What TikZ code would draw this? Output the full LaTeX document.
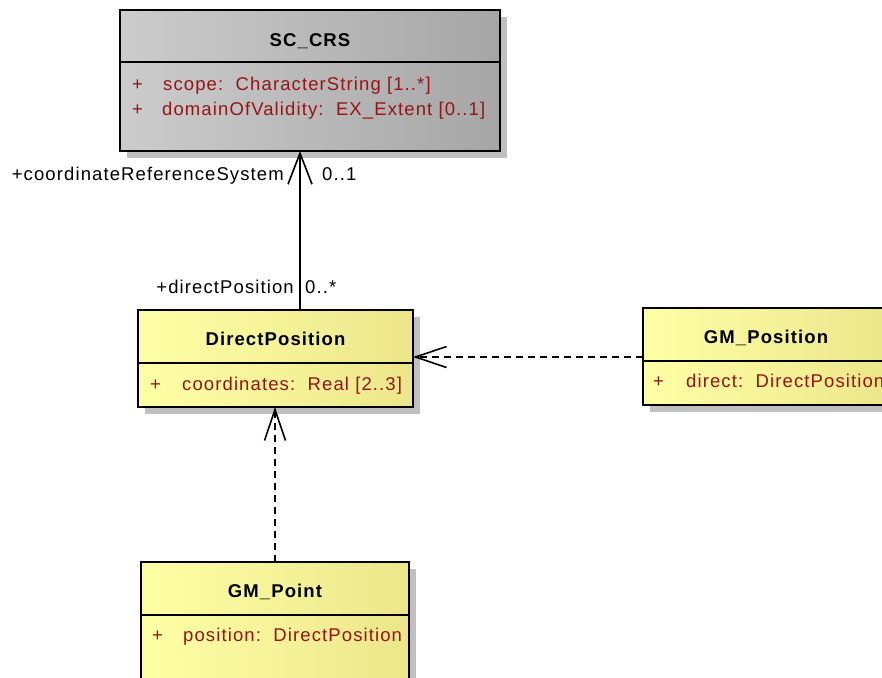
\documentclass[tikz,border=0pt]{standalone}
\usepackage{fontspec}
\setmainfont{Liberation Sans}[LetterSpace=6]
\usetikzlibrary{shadows,arrows.meta}
\definecolor{attr}{RGB}{150,20,20}
\definecolor{grayL}{RGB}{204,204,204}
\definecolor{grayR}{RGB}{166,166,166}
\definecolor{yelL}{RGB}{255,255,166}
\definecolor{yelR}{RGB}{236,230,138}
\definecolor{shadowgray}{RGB}{192,192,192}
\tikzset{
  umlbox/.style={draw=black, line width=1.6pt, inner sep=0pt, outer sep=0pt, anchor=north west,
    drop shadow={shadow xshift=7pt, shadow yshift=-7pt, fill=shadowgray, opacity=1}},
  graybox/.style={umlbox, left color=grayL, right color=grayR},
  yellowbox/.style={umlbox, left color=yelL, right color=yelR},
  divider/.style={line width=1.6pt},
  title/.style={font=\fontsize{18.5}{22}\selectfont\bfseries, inner sep=0pt, anchor=base},
  attrtxt/.style={font=\fontsize{18.5}{22}\selectfont, text=attr, inner sep=0pt, anchor=base west},
  lbl/.style={font=\fontsize{18.5}{22}\selectfont, inner sep=0pt},
  assoc/.style={line width=1.6pt, -{Straight Barb[length=31pt,width=24pt]}},
  dep/.style={line width=1.6pt, dash pattern=on 7pt off 5pt, -{Straight Barb[length=31pt,width=21pt]}}
}
\begin{document}
\begin{tikzpicture}[x=1pt,y=-1pt]
\useasboundingbox[fill=white] (0,0) rectangle (882,677);
% SC_CRS
\node[graybox, minimum width=380pt, minimum height=141pt] (sc) at (120,10) {};
\draw[divider] (120,62) -- (500,62);
\node[title] (sct) at (310,46) {SC\_CRS};
\node[attrtxt] (scp1) at (132,90) {+};
\node[attrtxt] (sca1) at (163,90) {scope:\ \ CharacterString [1..*]};
\node[attrtxt] (scp2) at (132,115) {+};
\node[attrtxt] (sca2) at (162,115) {domainOfValidity:\ \ EX\_Extent [0..1]};
% DirectPosition
\node[yellowbox, minimum width=275pt, minimum height=97pt] (dp) at (138,310) {};
\draw[divider] (138,363) -- (413,363);
\node[title] (dpt) at (275.5,345) {DirectPosition};
\node[attrtxt] (dpp) at (150,390) {+};
\node[attrtxt] (dpa) at (182,390) {coordinates:\ \ Real [2..3]};
% GM_Position
\node[yellowbox, minimum width=246pt, minimum height=97pt] (gpos) at (643,308) {};
\draw[divider] (643,361) -- (889,361);
\node[title] (gpost) at (766,343) {GM\_Position};
\node[attrtxt] (gposp) at (653,387) {+};
\node[attrtxt] (gposa) at (686,387) {direct:\ \ DirectPosition};
% GM_Point
\node[yellowbox, minimum width=268pt, minimum height=130pt] (gpt) at (141,562) {};
\draw[divider] (141,615) -- (409,615);
\node[title] (gptt) at (275,597) {GM\_Point};
\node[attrtxt] (gptp) at (152,641) {+};
\node[attrtxt] (gpta) at (183,641) {position:\ \ DirectPosition};
% connectors
\coordinate (ax) at (300,0);
\coordinate (dy) at (0,357);
\coordinate (px) at (275,0);
\draw[assoc] (dp.north -| ax) -- (sc.south -| ax);
\draw[dep] (gpos.west |- dy) -- (dp.east |- dy);
\draw[dep] (gpt.north -| px) -- (dp.south -| px);
% role labels
\node[lbl, anchor=base east] (r1) at (284,180) {+coordinateReferenceSystem};
\node[lbl, anchor=base west] (m1) at (322,180) {0..1};
\node[lbl, anchor=base east] (r2) at (294,293) {+directPosition};
\node[lbl, anchor=base west] (m2) at (305,293) {0..*};
\end{tikzpicture}
\end{document}
